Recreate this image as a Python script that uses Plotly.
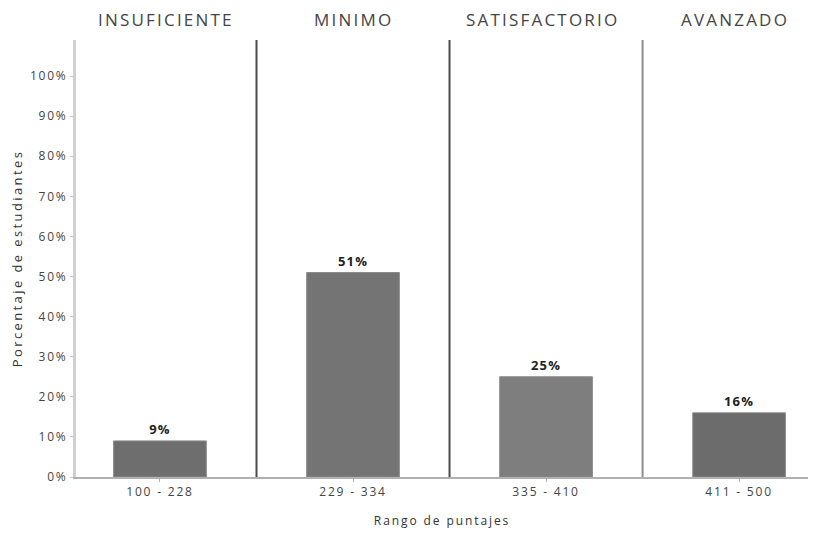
import plotly.graph_objects as go

# Score ranges and share of students per performance level
rangos = ["100 - 228", "229 - 334", "335 - 410", "411 - 500"]
niveles = ["INSUFICIENTE", "MINIMO", "SATISFACTORIO", "AVANZADO"]
porcentajes = [9, 51, 25, 16]
colores = ["#6e6e6e", "#747474", "#7e7e7e", "#6c6c6c"]
y_ticks = [0, 10, 20, 30, 40, 50, 60, 70, 80, 90, 100]

FONT = "Open Sans"


def spaced(text, px):
    """Wrap text in a span with extra letter spacing."""
    return f'<span style="letter-spacing:{px}px">{text}</span>'


pos = list(range(len(rangos)))

fig = go.Figure()
fig.add_trace(go.Bar(
    x=pos,
    y=porcentajes,
    width=0.48,
    marker=dict(color=colores, line=dict(color="#8a8a8a", width=1)),
    text=[spaced(f"{v}%", 1.2) for v in porcentajes],
    textposition="outside",
    textfont=dict(family=FONT, size=13, color="#222222", weight="bold"),
    cliponaxis=False,
    showlegend=False,
))

# Vertical separators between levels
sep_colors = ["#4a4a4a", "#4a4a4a", "#8c8c8c"]
for i, c in enumerate(sep_colors):
    fig.add_shape(type="line", xref="x", yref="paper",
                  x0=i + 0.5, x1=i + 0.5, y0=0, y1=1,
                  line=dict(color=c, width=2))

# Level names above each section
title_shift = [6, 0, -4, -4]
for i, name in enumerate(niveles):
    fig.add_annotation(x=i, y=1, xref="x", yref="paper", yanchor="bottom",
                       xshift=title_shift[i], yshift=7,
                       text=spaced(name, 2.2), showarrow=False,
                       font=dict(family=FONT, size=17, color="#444444"))

fig.update_layout(
    width=815, height=534,
    margin=dict(l=76, r=7, t=40, b=57),
    paper_bgcolor="white", plot_bgcolor="white",
    xaxis=dict(
        range=[-0.435, 3.357],
        tickmode="array", tickvals=pos,
        ticktext=[spaced(r, 1.8) for r in rangos],
        showline=True, linecolor="#b0b0b0", linewidth=2,
        ticks="outside", ticklen=3, tickcolor="#b0b0b0",
        tickfont=dict(family=FONT, size=12, color="#444444"),
        showgrid=False, zeroline=False,
        title=dict(text=spaced("Rango de puntajes", 1.9), standoff=17,
                   font=dict(family=FONT, size=12, color="#333333")),
    ),
    yaxis=dict(
        range=[0, 109],
        tickmode="array", tickvals=y_ticks,
        ticktext=[spaced(f"{v}%", 1.8) for v in y_ticks],
        showline=True, linecolor="#d0d0d0", linewidth=3,
        ticks="outside", ticklen=3, tickcolor="#c8c8c8",
        tickfont=dict(family=FONT, size=12, color="#444444"),
        showgrid=False, zeroline=False,
        title=dict(text=spaced("Porcentaje de estudiantes", 2.4), standoff=5,
                   font=dict(family=FONT, size=13, color="#333333")),
    ),
)

fig.write_html("out.html")
